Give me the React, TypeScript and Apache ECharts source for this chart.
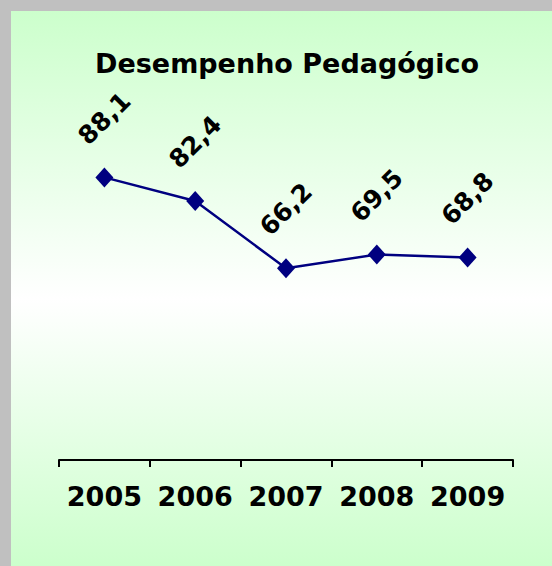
import React, { useEffect, useRef } from "react";
import * as echarts from "echarts";

const TITLE = "Desempenho Pedagógico";
const YEARS = ["2005", "2006", "2007", "2008", "2009"];
const VALUES = [88.1, 82.4, 66.2, 69.5, 68.8];
const Y_MIN = 20;
const Y_MAX = 100;

export default function App() {
  const ref = useRef<HTMLDivElement>(null);

  useEffect(() => {
    if (!ref.current) return;
    const chart = echarts.init(ref.current, undefined, { renderer: "svg" });
    chart.setOption({
      animation: false,
      backgroundColor: "transparent",
      title: {
        text: TITLE,
        left: 282,
        top: 45,
        textAlign: "center",
        textStyle: {
          fontFamily: "DejaVu Sans",
          fontSize: 27,
          fontWeight: "bold",
          color: "#000",
        },
      },
      grid: { left: 59, right: 39, top: 128, bottom: 106, containLabel: false },
      xAxis: {
        type: "category",
        data: YEARS,
        boundaryGap: true,
        axisLine: { show: true, lineStyle: { color: "#000", width: 2 } },
        axisTick: { show: true, interval: 0, length: 7, lineStyle: { color: "#000", width: 2 } },
        axisLabel: {
          interval: 0,
          margin: 23,
          fontFamily: "DejaVu Sans",
          fontSize: 27,
          fontWeight: "bold",
          color: "#000",
        },
        splitLine: { show: false },
      },
      yAxis: {
        type: "value",
        min: Y_MIN,
        max: Y_MAX,
        show: false,
        splitLine: { show: false },
      },
      series: [
        {
          type: "line",
          data: VALUES,
          symbol: "diamond",
          symbolSize: [18, 20],
          itemStyle: { color: "#000080" },
          lineStyle: { color: "#000080", width: 2.5 },
          label: {
            show: true,
            position: "top",
            distance: 49,
            rotate: 45,
            align: "center",
            verticalAlign: "middle",
            fontFamily: "DejaVu Sans",
            fontSize: 25,
            fontWeight: "bold",
            color: "#000",
            formatter: (p: any) => Number(p.value).toFixed(1).replace(".", ","),
          },
        },
      ],
    });
    return () => chart.dispose();
  }, []);

  return (
    <div
      style={{
        position: "fixed",
        left: 0,
        top: 0,
        width: 552,
        height: 566,
        background: "#c0c0c0",
      }}
    >
      <div
        style={{
          position: "absolute",
          left: 11,
          top: 11,
          width: 541,
          height: 555,
          background:
            "linear-gradient(to bottom, #ccffcc 0%, #ffffff 52%, #ccffcc 100%)",
        }}
      />
      <div
        ref={ref}
        style={{ position: "absolute", left: 0, top: 0, width: 552, height: 566 }}
      />
    </div>
  );
}
